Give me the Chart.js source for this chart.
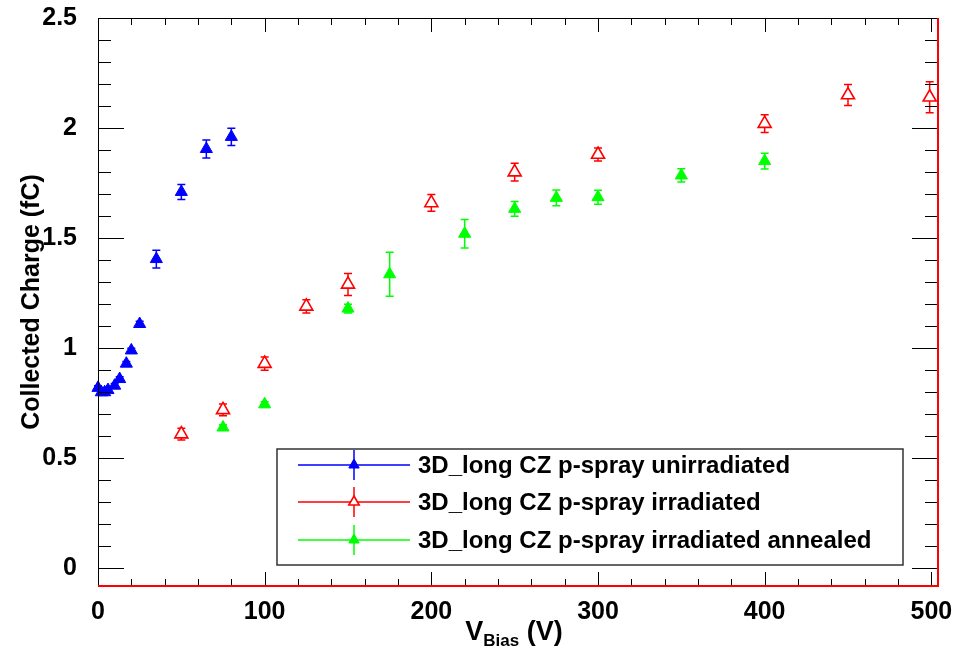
<!DOCTYPE html>
<html>
<head>
<meta charset="utf-8">
<script src="https://cdn.jsdelivr.net/npm/chart.js@4.4.1/dist/chart.umd.min.js"></script>
<style>
  html, body { margin: 0; padding: 0; background: #fff; }
  #wrap { width: 958px; height: 648px; position: relative; }
</style>
</head>
<body>
<div id="wrap"><canvas id="chart"></canvas></div>
<script>
// Collected charge vs bias voltage
const blueV   = [0, 2, 4, 6, 10, 13, 17, 20, 25, 35, 50, 65, 80];
const blueQ   = [0.82, 0.80, 0.80, 0.81, 0.83, 0.86, 0.93, 0.99, 1.11, 1.405, 1.71, 1.905, 1.96];
const blueErr = [0.01, 0.01, 0.01, 0.01, 0.01, 0.01, 0.01, 0.01, 0.012, 0.04, 0.034, 0.041, 0.039];

const redV   = [50, 75, 100, 125, 150, 200, 250, 300, 400, 450, 499];
const redQ   = [0.61, 0.72, 0.93, 1.19, 1.29, 1.66, 1.80, 1.88, 2.02, 2.15, 2.14];
const redErr = [0.027, 0.027, 0.03, 0.03, 0.05, 0.038, 0.04, 0.03, 0.04, 0.048, 0.07];

const greenV   = [75, 100, 150, 175, 220, 250, 275, 300, 350, 400];
const greenQ   = [0.64, 0.745, 1.18, 1.336, 1.52, 1.633, 1.683, 1.686, 1.785, 1.85];
const greenErr = [0.012, 0.012, 0.02, 0.1, 0.065, 0.034, 0.036, 0.032, 0.03, 0.036];

const seriesNames = [
    '3D_long CZ p-spray unirradiated',
    '3D_long CZ p-spray irradiated',
    '3D_long CZ p-spray irradiated annealed'
];
const seriesColors = ['#0000ff', '#ff0000', '#00ff00'];

const xTicks = [0, 100, 200, 300, 400, 500];
const xTickLabels = ['0', '100', '200', '300', '400', '500'];
const yTicks = [0, 0.5, 1, 1.5, 2, 2.5];
const yTickLabels = ['0', '0.5', '1', '1.5', '2', '2.5'];

const X_MIN = 0, X_MAX = 504;
const Y_MIN = -0.08, Y_MAX = 2.5;
const FONT = '"Liberation Sans", Arial, Helvetica, sans-serif';

function toPoints(xs, ys) {
    return xs.map((x, i) => ({ x: x, y: ys[i] }));
}

// vertical error bars with small caps, drawn under the markers
const errorBars = {
    id: 'errorBars',
    beforeDatasetsDraw(chart) {
        const ctx = chart.ctx;
        const ys = chart.scales.y;
        chart.data.datasets.forEach((ds, di) => {
            const meta = chart.getDatasetMeta(di);
            ctx.save();
            ctx.strokeStyle = ds.borderColor;
            ctx.lineWidth = 1.5;
            meta.data.forEach((pt, i) => {
                const v = ds.data[i].y;
                const e = ds.errors[i];
                const top = ys.getPixelForValue(v + e);
                const bot = ys.getPixelForValue(v - e);
                const x = pt.x;
                ctx.beginPath();
                ctx.moveTo(x, top); ctx.lineTo(x, bot);
                if (bot - top > 3) {
                    ctx.moveTo(x - 4, top); ctx.lineTo(x + 4, top);
                    ctx.moveTo(x - 4, bot); ctx.lineTo(x + 4, bot);
                }
                ctx.stroke();
            });
            ctx.restore();
        });
    }
};

// ROOT-like frame: inward ticks on all four sides, legend box, x title
const rootFrame = {
    id: 'rootFrame',
    afterDraw(chart) {
        const ctx = chart.ctx;
        const a = chart.chartArea;
        const xs = chart.scales.x, ys = chart.scales.y;
        ctx.save();
        ctx.strokeStyle = '#000';
        ctx.lineWidth = 1;
        ctx.strokeRect(a.left + 0.5, a.top + 0.5, a.right - a.left, a.bottom - a.top);

        ctx.beginPath();
        for (let v = 0; v <= X_MAX; v += 20) {
            const px = Math.round(xs.getPixelForValue(v)) + 0.5;
            const len = (v % 100 === 0) ? 14 : 7;
            ctx.moveTo(px, a.bottom); ctx.lineTo(px, a.bottom - len);
            ctx.moveTo(px, a.top); ctx.lineTo(px, a.top + len);
        }
        for (let k = 0; k <= 25; k++) {
            const v = k / 10;
            const py = Math.round(ys.getPixelForValue(v)) + 0.5;
            const len = (k % 5 === 0) ? 26 : 13;
            ctx.moveTo(a.left, py); ctx.lineTo(a.left + len, py);
            ctx.moveTo(a.right, py); ctx.lineTo(a.right - len, py);
        }
        ctx.stroke();

        // red graph line lying on the bottom and right frame
        ctx.strokeStyle = '#ff0000';
        ctx.lineWidth = 2;
        ctx.beginPath();
        ctx.moveTo(a.left, a.bottom); ctx.lineTo(a.right, a.bottom);
        ctx.lineTo(a.right, a.top);
        ctx.stroke();

        // x axis title with subscript
        ctx.fillStyle = '#000';
        ctx.textBaseline = 'alphabetic';
        const big = 'bold 27px ' + FONT, small = 'bold 17px ' + FONT;
        ctx.font = big;
        const wV = ctx.measureText('V').width;
        const wU = ctx.measureText(' (V)').width;
        ctx.font = small;
        const wB = ctx.measureText('Bias').width;
        let tx = 514 - (wV + wB + wU) / 2;
        const ty = 640;
        ctx.font = big; ctx.fillText('V', tx, ty); tx += wV;
        ctx.font = small; ctx.fillText('Bias', tx, ty + 6); tx += wB;
        ctx.font = big; ctx.fillText(' (V)', tx, ty);

        // legend
        const L = { x: 277, y: 449, w: 626, h: 116 };
        ctx.fillStyle = '#fff';
        ctx.fillRect(L.x, L.y, L.w, L.h);
        ctx.strokeStyle = '#333';
        ctx.lineWidth = 1.5;
        ctx.strokeRect(L.x, L.y, L.w, L.h);
        const rows = [465, 502, 540];
        chart.data.datasets.forEach((ds, i) => {
            const ry = rows[i];
            ctx.strokeStyle = ds.borderColor;
            ctx.lineWidth = 1.5;
            ctx.beginPath();
            ctx.moveTo(298, ry); ctx.lineTo(410, ry);
            ctx.moveTo(354, ry - 15); ctx.lineTo(354, ry + 15);
            ctx.stroke();
            ctx.fillStyle = ds.pointBackgroundColor;
            ctx.strokeStyle = ds.borderColor;
            ctx.lineWidth = ds.borderWidth;
            Chart.helpers.drawPoint(ctx, {
                pointStyle: 'triangle', radius: 6, rotation: 0, borderWidth: ds.borderWidth
            }, 354, ry);
            ctx.fillStyle = '#000';
            ctx.font = 'bold 24px ' + FONT;
            ctx.textBaseline = 'middle';
            ctx.fillText(seriesNames[i], 418, ry + 1);
        });
        ctx.restore();
    }
};

function makeDataset(i, xs, ys, errs, open) {
    return {
        label: seriesNames[i],
        data: toPoints(xs, ys),
        errors: errs,
        showLine: false,
        clip: false,
        pointStyle: 'triangle',
        pointRadius: open ? 7.5 : 7,
        pointHoverRadius: open ? 7.5 : 7,
        borderColor: seriesColors[i],
        backgroundColor: open ? '#ffffff' : seriesColors[i],
        pointBackgroundColor: open ? '#ffffff' : seriesColors[i],
        borderWidth: open ? 1.6 : 1
    };
}

new Chart(document.getElementById('chart'), {
    type: 'scatter',
    data: {
        datasets: [
            makeDataset(0, blueV, blueQ, blueErr, false),
            makeDataset(1, redV, redQ, redErr, true),
            makeDataset(2, greenV, greenQ, greenErr, false)
        ]
    },
    options: {
        responsive: true,
        maintainAspectRatio: false,
        devicePixelRatio: 1,
        animation: false,
        layout: { padding: { top: 18, right: 20, left: 0, bottom: 0 } },
        plugins: {
            legend: { display: false },
            tooltip: { enabled: false }
        },
        scales: {
            x: {
                type: 'linear',
                min: X_MIN,
                max: X_MAX,
                grid: { display: false },
                border: { display: false },
                afterBuildTicks: (axis) => { axis.ticks = xTicks.map(v => ({ value: v })); },
                afterFit: (axis) => {
                    axis.height = 62;
                    axis.paddingLeft = 0; axis.paddingRight = 0;
                },
                ticks: {
                    color: '#000',
                    padding: 3,
                    maxRotation: 0,
                    font: { family: FONT, size: 25, weight: 'bold' },
                    callback: (value) => xTickLabels[xTicks.indexOf(value)]
                }
            },
            y: {
                type: 'linear',
                min: Y_MIN,
                max: Y_MAX,
                grid: { display: false },
                border: { display: false },
                afterBuildTicks: (axis) => { axis.ticks = yTicks.map(v => ({ value: v })); },
                afterFit: (axis) => {
                    axis.width = 98;
                    axis.paddingTop = 0; axis.paddingBottom = 0;
                },
                title: {
                    display: true,
                    text: 'Collected Charge (fC)',
                    color: '#000',
                    font: { family: FONT, size: 25, weight: 'bold' },
                    padding: { top: 17, bottom: 0 }
                },
                ticks: {
                    color: '#000',
                    padding: 13,
                    font: { family: FONT, size: 25, weight: 'bold' },
                    callback: (value) => yTickLabels[yTicks.indexOf(value)]
                }
            }
        }
    },
    plugins: [errorBars, rootFrame]
});
</script>
</body>
</html>
